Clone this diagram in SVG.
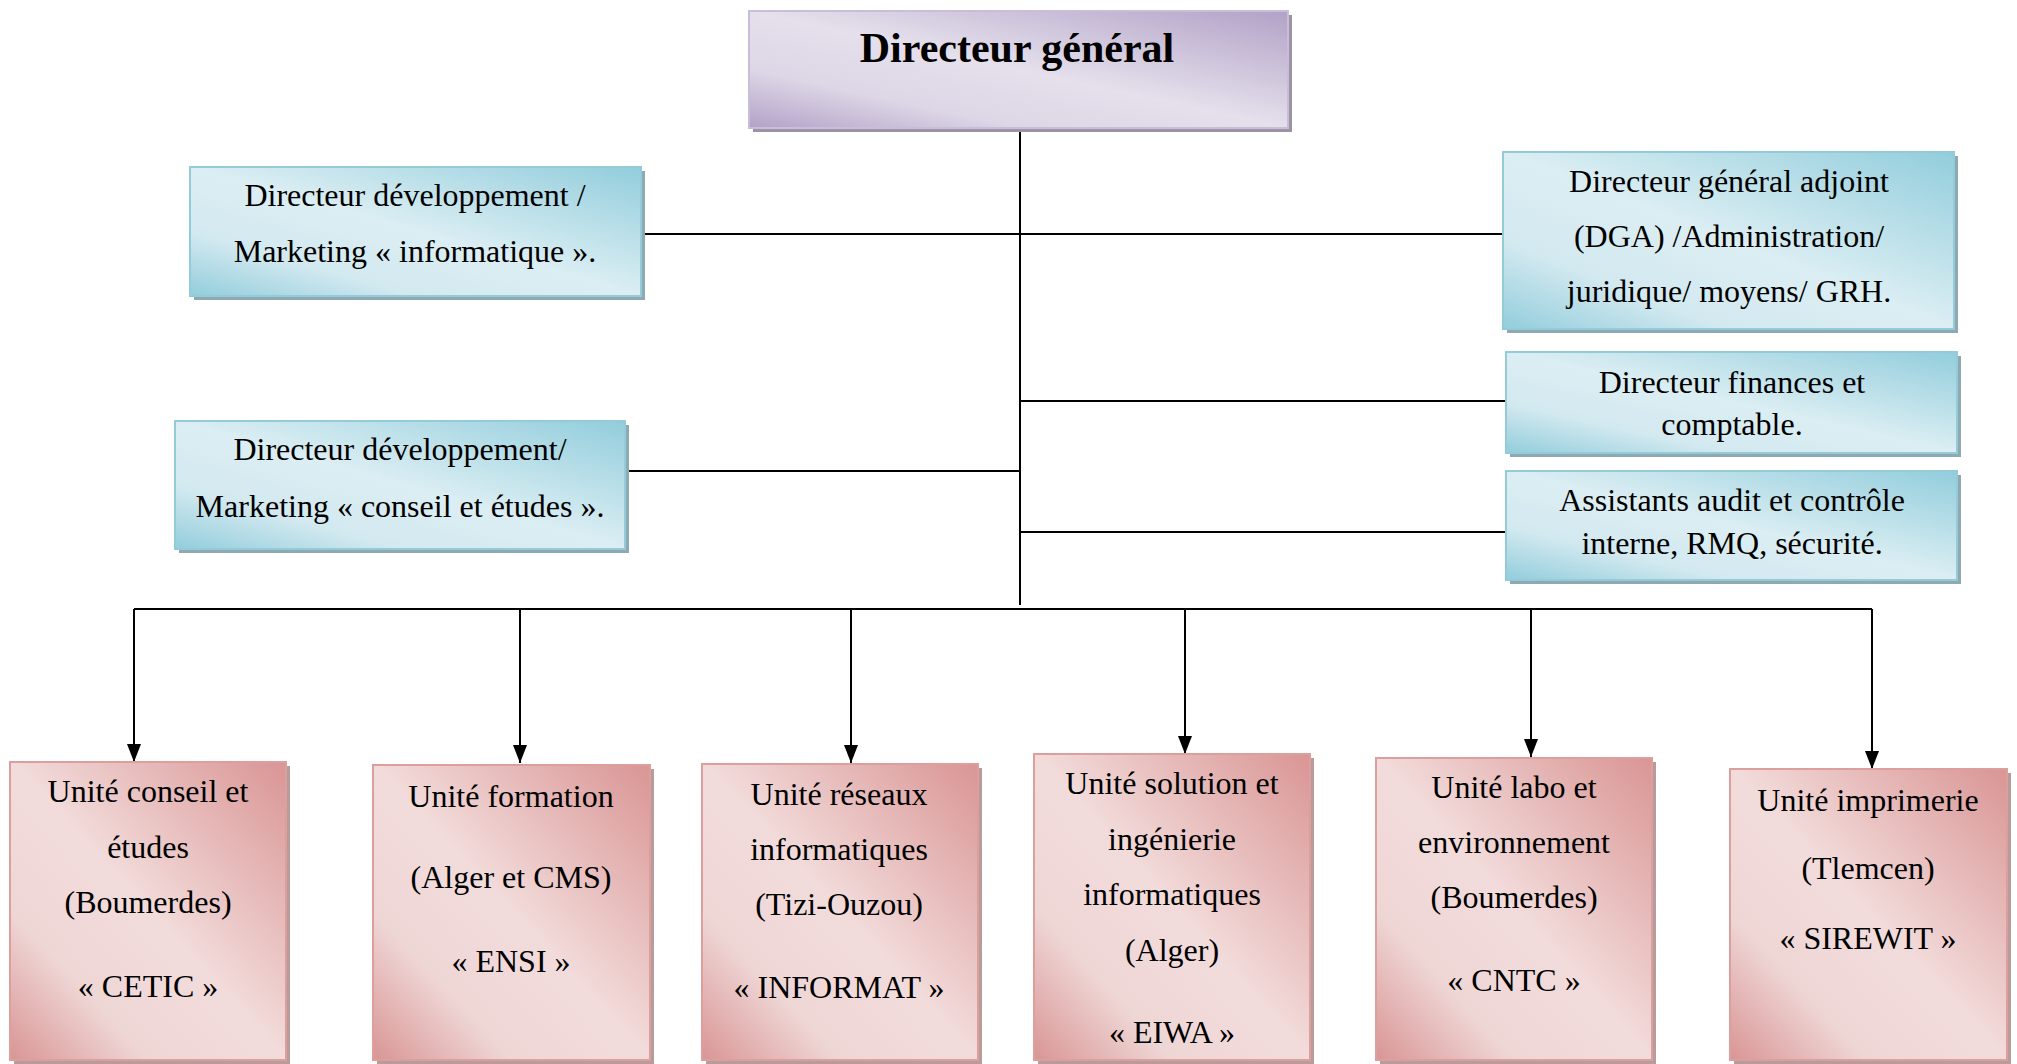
<svg xmlns="http://www.w3.org/2000/svg" width="2017" height="1064" viewBox="0 0 2017 1064">
<defs>
<linearGradient id="gBlue" x1="1" y1="0" x2="0" y2="1">
<stop offset="0" stop-color="#92cddc"/>
<stop offset="0.5" stop-color="#dbeef3"/>
<stop offset="0.75" stop-color="#d3e9f0"/>
<stop offset="1" stop-color="#92cddc"/>
</linearGradient>
<linearGradient id="gPurple" x1="1" y1="0" x2="0" y2="1">
<stop offset="0" stop-color="#b2a1c7"/>
<stop offset="0.5" stop-color="#e5e0ec"/>
<stop offset="0.75" stop-color="#ddd6e6"/>
<stop offset="1" stop-color="#b2a1c7"/>
</linearGradient>
<linearGradient id="gPink" x1="1" y1="0" x2="0" y2="1">
<stop offset="0" stop-color="#d99594"/>
<stop offset="0.5" stop-color="#f2dcdb"/>
<stop offset="0.75" stop-color="#eed6d5"/>
<stop offset="1" stop-color="#d99594"/>
</linearGradient>
<marker id="arr" viewBox="0 0 18 14" refX="18" refY="7" markerWidth="18" markerHeight="14" markerUnits="userSpaceOnUse" orient="auto">
<path d="M0,0 L18,7 L0,14 Z" fill="#000"/>
</marker>
</defs>
<style>
.t{font-family:"Liberation Serif","Times New Roman",serif;font-size:32px;fill:#000;text-anchor:middle}
.tb{font-family:"Liberation Serif","Times New Roman",serif;font-size:42px;font-weight:bold;fill:#000;text-anchor:middle}
.sb{fill:#8fa9b3}
.sp{fill:#9d93a7}
.sk{fill:#b89b9b}
.bb{fill:url(#gBlue);stroke:#93cbd9;stroke-width:2}
.bp{fill:url(#gPurple);stroke:#c9bdd8;stroke-width:2}
.bk{fill:url(#gPink);stroke:#dc9f9e;stroke-width:2}
.c{stroke:#000;stroke-width:2;fill:none}
</style>
<rect width="2017" height="1064" fill="#fff"/>

<g id="connectors">
<line class="c" x1="1020" y1="129" x2="1020" y2="605"/>
<line class="c" x1="641" y1="234" x2="1503" y2="234"/>
<line class="c" x1="1020" y1="401" x2="1506" y2="401"/>
<line class="c" x1="1020" y1="532" x2="1506" y2="532"/>
<line class="c" x1="625" y1="471" x2="1020" y2="471"/>
<line class="c" x1="134" y1="609" x2="1872" y2="609"/>
<line class="c" x1="134" y1="609" x2="134" y2="762" marker-end="url(#arr)"/>
<line class="c" x1="520" y1="609" x2="520" y2="763" marker-end="url(#arr)"/>
<line class="c" x1="851" y1="609" x2="851" y2="763" marker-end="url(#arr)"/>
<line class="c" x1="1185" y1="609" x2="1185" y2="754" marker-end="url(#arr)"/>
<line class="c" x1="1531" y1="609" x2="1531" y2="757" marker-end="url(#arr)"/>
<line class="c" x1="1872" y1="609" x2="1872" y2="769" marker-end="url(#arr)"/>
</g>

<g id="dg">
<rect class="sp" x="753" y="15" width="539" height="117"/>
<rect class="bp" x="749" y="11" width="539" height="117"/>
<text class="tb" x="1017" y="62">Directeur général</text>
</g>

<g id="dir-dev-info">
<rect class="sb" x="194" y="171" width="451" height="129"/>
<rect class="bb" x="190" y="167" width="451" height="129"/>
<text class="t" x="415" y="206">Directeur développement /</text>
<text class="t" x="415" y="262">Marketing « informatique ».</text>
</g>

<g id="dga">
<rect class="sb" x="1507" y="156" width="451" height="177"/>
<rect class="bb" x="1503" y="152" width="451" height="177"/>
<text class="t" x="1729" y="192">Directeur général adjoint</text>
<text class="t" x="1729" y="247">(DGA) /Administration/</text>
<text class="t" x="1729" y="302">juridique/ moyens/ GRH.</text>
</g>

<g id="dir-fin">
<rect class="sb" x="1510" y="356" width="451" height="101"/>
<rect class="bb" x="1506" y="352" width="451" height="101"/>
<text class="t" x="1732" y="393">Directeur finances et</text>
<text class="t" x="1732" y="435">comptable.</text>
</g>

<g id="assist">
<rect class="sb" x="1510" y="475" width="451" height="109"/>
<rect class="bb" x="1506" y="471" width="451" height="109"/>
<text class="t" x="1732" y="511">Assistants audit et contrôle</text>
<text class="t" x="1732" y="554">interne, RMQ, sécurité.</text>
</g>

<g id="dir-dev-conseil">
<rect class="sb" x="179" y="425" width="450" height="128"/>
<rect class="bb" x="175" y="421" width="450" height="128"/>
<text class="t" x="400" y="460">Directeur développement/</text>
<text class="t" x="400" y="517">Marketing « conseil et études ».</text>
</g>

<g id="u-cetic">
<rect class="sk" x="14" y="766" width="276" height="298"/>
<rect class="bk" x="10" y="762" width="276" height="298"/>
<text class="t" x="148" y="802">Unité conseil et</text>
<text class="t" x="148" y="858">études</text>
<text class="t" x="148" y="913">(Boumerdes)</text>
<text class="t" x="148" y="997">« CETIC »</text>
</g>

<g id="u-ensi">
<rect class="sk" x="377" y="769" width="277" height="295"/>
<rect class="bk" x="373" y="765" width="277" height="295"/>
<text class="t" x="511" y="807">Unité formation</text>
<text class="t" x="511" y="888">(Alger et CMS)</text>
<text class="t" x="511" y="972">« ENSI »</text>
</g>

<g id="u-informat">
<rect class="sk" x="706" y="768" width="276" height="296"/>
<rect class="bk" x="702" y="764" width="276" height="296"/>
<text class="t" x="839" y="805">Unité réseaux</text>
<text class="t" x="839" y="860">informatiques</text>
<text class="t" x="839" y="915">(Tizi-Ouzou)</text>
<text class="t" x="839" y="998">« INFORMAT »</text>
</g>

<g id="u-eiwa">
<rect class="sk" x="1038" y="758" width="276" height="306"/>
<rect class="bk" x="1034" y="754" width="276" height="306"/>
<text class="t" x="1172" y="794">Unité solution et</text>
<text class="t" x="1172" y="850">ingénierie</text>
<text class="t" x="1172" y="905">informatiques</text>
<text class="t" x="1172" y="961">(Alger)</text>
<text class="t" x="1172" y="1043">« EIWA »</text>
</g>

<g id="u-cntc">
<rect class="sk" x="1380" y="762" width="276" height="302"/>
<rect class="bk" x="1376" y="758" width="276" height="302"/>
<text class="t" x="1514" y="798">Unité labo et</text>
<text class="t" x="1514" y="853">environnement</text>
<text class="t" x="1514" y="908">(Boumerdes)</text>
<text class="t" x="1514" y="991">« CNTC »</text>
</g>

<g id="u-sirewit">
<rect class="sk" x="1734" y="773" width="277" height="291"/>
<rect class="bk" x="1730" y="769" width="277" height="291"/>
<text class="t" x="1868" y="811">Unité imprimerie</text>
<text class="t" x="1868" y="879">(Tlemcen)</text>
<text class="t" x="1868" y="949">« SIREWIT »</text>
</g>
</svg>
